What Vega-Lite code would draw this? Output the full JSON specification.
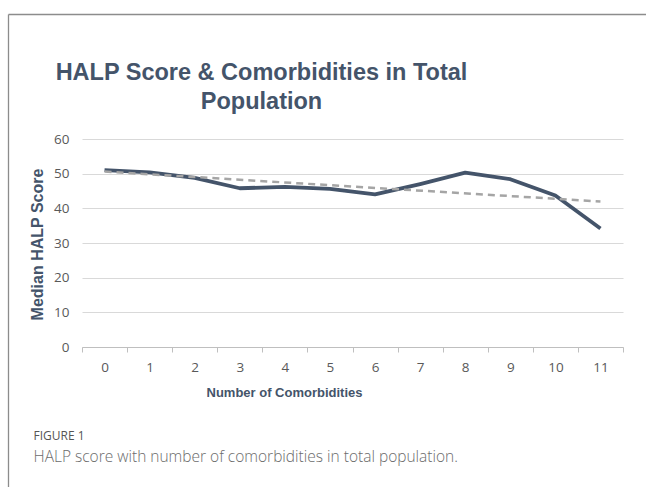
{
  "$schema": "https://vega.github.io/schema/vega-lite/v6.json",
  "autosize": {"type": "none"},
  "width": 541,
  "height": 208,
  "padding": {"left": 82, "top": 139, "right": 23, "bottom": 140},
  "background": "white",
  "config": {
    "view": {"stroke": null},
    "font": "Liberation Sans"
  },
  "title": {
    "text": ["HALP Score & Comorbidities in Total", "Population"],
    "font": "Liberation Sans",
    "fontSize": 23.5,
    "fontWeight": "bold",
    "color": "#44546a",
    "anchor": "middle",
    "dx": -91,
    "dy": 117,
    "lineHeight": 29,
    "offset": 18
  },
  "data": {
    "values": [
      {"n": 0, "score": 51.0},
      {"n": 1, "score": 50.4},
      {"n": 2, "score": 48.8},
      {"n": 3, "score": 45.8},
      {"n": 4, "score": 46.2},
      {"n": 5, "score": 45.6},
      {"n": 6, "score": 44.0},
      {"n": 7, "score": 47.0},
      {"n": 8, "score": 50.3},
      {"n": 9, "score": 48.4},
      {"n": 10, "score": 43.7},
      {"n": 11, "score": 34.2}
    ]
  },
  "resolve": {"scale": {"x": "independent", "y": "independent"}, "axis": {"x": "independent", "y": "independent"}},
  "layer": [
    {
      "resolve": {"axis": {"x": "independent", "y": "independent"}},
      "layer": [
        {
          "mark": {"type": "line", "color": "#44546a", "strokeWidth": 3.8, "strokeJoin": "round"},
          "encoding": {
            "x": {
              "field": "n", "type": "ordinal",
              "scale": {"type": "band", "paddingInner": 0, "paddingOuter": 0},
              "axis": {
                "orient": "bottom",
                "labelAngle": 0,
                "labelFont": "Open Sans",
                "labelFontSize": 13.5,
                "labelColor": "#595959",
                "labelPadding": 8,
                "tickBand": "extent",
                "ticks": true,
                "tickSize": 5,
                "tickColor": "#bfbfbf",
                "domainColor": "#bfbfbf",
                "grid": false,
                "title": "Number of Comorbidities",
                "titleFont": "Liberation Sans",
                "titleFontSize": 13,
                "titleFontWeight": "bold",
                "titleColor": "#44546a",
                "titleX": 202,
                "titleY": 45,
                "titleAlign": "center",
                "titleBaseline": "middle"
              }
            },
            "y": {
              "field": "score", "type": "quantitative",
              "scale": {"domain": [0, 60], "nice": false},
              "axis": {
                "values": [0, 10, 20, 30, 40, 50, 60],
                "orient": "left",
                "ticks": false,
                "domain": false,
                "grid": true,
                "gridColor": "#d9d9d9",
                "gridWidth": 1.2,
                "labelFont": "Open Sans",
                "labelFontSize": 13.5,
                "labelColor": "#595959",
                "labelPadding": 13,
                "title": "Median HALP Score",
                "titleFont": "Liberation Sans",
                "titleFontSize": 16,
                "titleFontWeight": "bold",
                "titleColor": "#44546a",
                "titleAngle": -90,
                "titleX": -45,
                "titleY": 105,
                "titleAlign": "center",
                "titleBaseline": "middle"
              }
            }
          }
        },
        {
          "transform": [{"regression": "score", "on": "n"}],
          "mark": {"type": "line", "color": "#a5a5a5", "strokeWidth": 2.5, "strokeDash": [7, 5]},
          "encoding": {
            "x": {
              "field": "n", "type": "ordinal",
              "axis": {
                "orient": "bottom",
                "labels": false,
                "ticks": false,
                "domain": false,
                "grid": false,
                "title": "HALP score with number of comorbidities in total population.",
                "titleFont": "Open Sans",
                "titleFontSize": 15.5,
                "titleFontWeight": 300,
                "titleColor": "#6b6b6b",
                "titleX": -49,
                "titleY": 109,
                "titleAlign": "left",
                "titleAnchor": "start",
                "titleBaseline": "middle"
              }
            },
            "y": {
              "field": "score", "type": "quantitative",
              "axis": {
                "orient": "right",
                "labels": false,
                "ticks": false,
                "domain": false,
                "grid": false,
                "title": "FIGURE 1",
                "titleFont": "Open Sans",
                "titleFontSize": 12,
                "titleFontWeight": "normal",
                "titleColor": "#555555",
                "titleAngle": 0,
                "titleX": -590,
                "titleY": 296,
                "titleAlign": "left",
                "titleBaseline": "middle"
              }
            }
          }
        }
      ]
    },
    {
      "mark": {"type": "line", "opacity": 0},
      "encoding": {
        "x": {
          "field": "n", "type": "quantitative",
          "scale": {"domain": [0, 11], "range": [-74, 800], "nice": false, "zero": false},
          "axis": {"orient": "top", "offset": 125, "labels": false, "ticks": false, "grid": false, "title": null, "domain": true, "domainColor": "#8c8c8c", "domainWidth": 1.3}
        },
        "y": {
          "field": "score", "type": "quantitative",
          "scale": {"domain": [0, 60], "range": [500, -125], "nice": false},
          "axis": {"orient": "left", "offset": 74, "labels": false, "ticks": false, "grid": false, "title": null, "domain": true, "domainColor": "#8c8c8c", "domainWidth": 1.3}
        }
      }
    }
  ]
}
